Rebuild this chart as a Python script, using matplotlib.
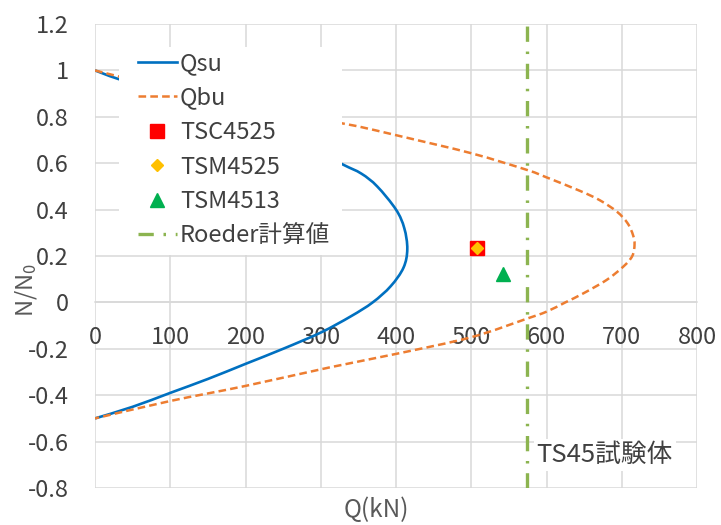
import matplotlib
matplotlib.use("Agg")
import matplotlib.pyplot as plt
from matplotlib.path import Path
from matplotlib.patches import PathPatch, Rectangle

plt.rcParams['font.family'] = ['Noto Sans CJK JP', 'DejaVu Sans']
plt.rcParams['mathtext.default'] = 'regular'
plt.rcParams['lines.scale_dashes'] = False

# Qsu curve (N/N0, Q kN), read from top end (N=1) to bottom end (N=-0.5)
qsu_n = [1.0, 0.963, 0.895, 0.785, 0.675, 0.595, 0.555, 0.50, 0.40, 0.32, 0.23,
         0.15, 0.07, 0.0, -0.06, -0.13, -0.2, -0.265, -0.33, -0.39, -0.45, -0.5]
qsu_q = [0, 31, 100, 200, 281, 329, 354, 375, 400, 411, 415,
         410, 393, 369, 340, 300, 250, 200, 150, 100, 50, 0]

# Qbu curve
qbu_n = [1.0, 0.98, 0.92, 0.855, 0.772, 0.757, 0.717, 0.643, 0.571, 0.539, 0.48,
         0.44, 0.39, 0.34, 0.29, 0.25, 0.20, 0.154, 0.097, 0.039, 0.0,
         -0.04, -0.07, -0.15, -0.222, -0.28, -0.36, -0.425, -0.5]
qbu_q = [0, 24, 100, 200, 328, 352, 405, 500, 574, 600, 645,
         671, 694, 708, 715, 717, 714, 702, 680, 649, 625,
         600, 574, 500, 400, 312, 200, 100, 0]

# test specimens
tsc4525 = (508, 0.236)
tsm4525 = (508, 0.236)
tsm4513 = (542, 0.122)

# Roeder calculated value
roeder_q = 574

xticks = [0, 100, 200, 300, 400, 500, 600, 700, 800]
yticks = [-0.8, -0.6, -0.4, -0.2, 0, 0.2, 0.4, 0.6, 0.8, 1, 1.2]
yticklabels = ['-0.8', '-0.6', '-0.4', '-0.2', '0', '0.2', '0.4', '0.6', '0.8', '1', '1.2']


def smooth_path(xs, ys):
    """Excel-like smoothed line: Catmull-Rom segments as cubic Bezier curves."""
    pts = list(zip(xs, ys))
    n = len(pts)
    verts = [pts[0]]
    codes = [Path.MOVETO]
    for i in range(n - 1):
        p0 = pts[i - 1] if i > 0 else pts[i]
        p1 = pts[i]
        p2 = pts[i + 1]
        p3 = pts[i + 2] if i + 2 < n else pts[i + 1]
        c1 = (p1[0] + (p2[0] - p0[0]) / 6, p1[1] + (p2[1] - p0[1]) / 6)
        c2 = (p2[0] - (p3[0] - p1[0]) / 6, p2[1] - (p3[1] - p1[1]) / 6)
        verts += [c1, c2, p2]
        codes += [Path.CURVE4] * 3
    return Path(verts, codes)


fig = plt.figure(figsize=(7.21, 5.25), dpi=100)
ax = fig.add_axes([95/721, 1-488/525, 602/721, 464/525])

ax.set_xlim(0, 800)
ax.set_ylim(-0.8, 1.2)
ax.set_xticks(xticks)
ax.set_yticks(yticks)
ax.set_yticklabels(yticklabels)
ax.grid(True, color='#D9D9D9', linewidth=1.1, zorder=0)
ax.set_axisbelow(True)
for s in ['top', 'right', 'left']:
    ax.spines[s].set_visible(False)
ax.spines['bottom'].set_position(('data', 0))
ax.spines['bottom'].set_color('#D9D9D9')
ax.spines['bottom'].set_linewidth(1.1)
ax.tick_params(axis='both', length=0, labelsize=17, colors='#404040')
ax.tick_params(axis='x', pad=17)
ax.tick_params(axis='y', pad=19)

qsu_style = dict(color='#0070C0', lw=1.9)
qbu_style = dict(color='#ED7D31', lw=1.8, dashes=(5.5, 3))
roeder_style = dict(color='#8CB450', lw=2.4, dashes=(11, 7, 1.8, 7))

ax.add_patch(PathPatch(smooth_path(qsu_q, qsu_n), fill=False, edgecolor=qsu_style['color'],
                       lw=qsu_style['lw'], zorder=3, capstyle='butt'))
ax.add_patch(PathPatch(smooth_path(qbu_q, qbu_n), fill=False, edgecolor=qbu_style['color'],
                       lw=qbu_style['lw'], linestyle=(0, qbu_style['dashes']), zorder=3,
                       capstyle='butt'))
h_qsu, = ax.plot([], [], label='Qsu', **qsu_style)
h_qbu, = ax.plot([], [], label='Qbu', **qbu_style)
h_tsc, = ax.plot([tsc4525[0]], [tsc4525[1]], linestyle='none', marker='s', ms=10,
                 color='#FF0000', label='TSC4525', zorder=4)
h_tsm, = ax.plot([tsm4525[0]], [tsm4525[1]], linestyle='none', marker='D', ms=6.5,
                 color='#FFC000', label='TSM4525', zorder=5)
h_tsm13, = ax.plot([tsm4513[0]], [tsm4513[1]], linestyle='none', marker='^', ms=10,
                   color='#00B050', label='TSM4513', zorder=4)
h_roe, = ax.plot([roeder_q, roeder_q], [-0.8, 1.2], label='Roeder計算値', zorder=3,
                 **roeder_style)

# white legend area
ax.add_patch(Rectangle((0.0399, 0.502), 0.370, 0.448, transform=ax.transAxes,
                       facecolor='white', edgecolor='none', zorder=8))

leg = ax.legend(handles=[h_qsu, h_qbu, h_tsc, h_tsm, h_tsm13, h_roe],
                loc='upper left', bbox_to_anchor=(0.0714, 0.940), fontsize=17,
                frameon=False, borderpad=0, borderaxespad=0, handlelength=1.65,
                handletextpad=0.13, labelspacing=0.49, labelcolor='#404040')
leg.set_zorder(10)

ax.text(587, -0.658, 'TS45試験体', fontsize=18.5, color='#404040', ha='left', va='center',
        bbox=dict(facecolor='white', edgecolor='none', pad=2), zorder=6)

fig.text(376/721, 1-510/525, 'Q(kN)', fontsize=17.5, color='#595959', ha='center', va='center')
fig.text(26/721, 1-290/525, 'N/N$_0$', fontsize=17, color='#595959', ha='center', va='center',
         rotation=90)

fig.savefig('out.png', dpi=100)
